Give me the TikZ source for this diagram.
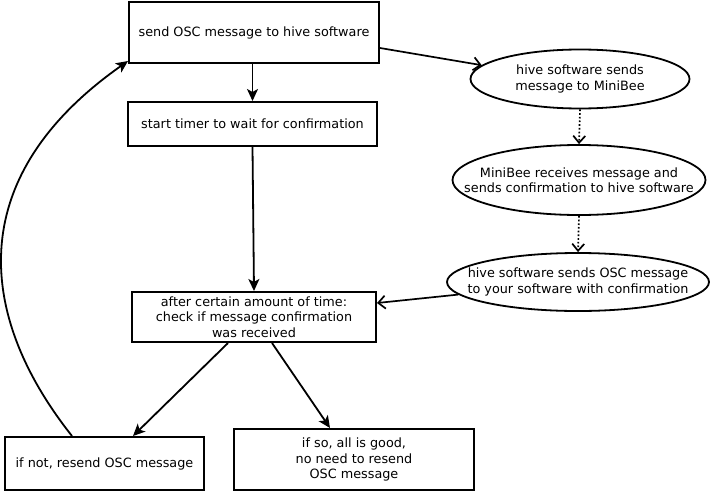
\documentclass[tikz,border=0pt]{standalone}
\usepackage{fontspec}
\setmainfont{DejaVu Sans}
\usetikzlibrary{shapes.geometric,arrows.meta}
\begin{document}
\begin{tikzpicture}[x=1pt,y=-1pt,
  box/.style={draw,line width=2pt,rectangle,align=center,inner sep=0pt,font=\fontsize{12.8}{15.5}\selectfont},
  ell/.style={draw,line width=1.8pt,ellipse,inner sep=0pt},
  lbl/.style={align=center,inner sep=0pt,font=\fontsize{12.8}{15.5}\selectfont},
  solidarrow/.style={line width=1.8pt,-{Stealth[length=12pt,width=11pt,inset=3pt]}},
  openarrow/.style={line width=1.7pt,-{Straight Barb[length=7pt,width=13pt]}},
  dotarrow/.style={line width=1.7pt,dotted,-{Straight Barb[length=7pt,width=12pt]}}]
\useasboundingbox (0,0) rectangle (711,495);
\fill[white] (0,0) rectangle (711,495);
\node[box,minimum width=250pt,minimum height=61pt] (b1) at (254,32.5) {send OSC message to hive software};
\node[box,minimum width=249pt,minimum height=44pt] (b2) at (252.5,124) {start timer to wait for confirmation};
\node[box,minimum width=244pt,minimum height=50pt] (b3) at (254,317) {after certain amount of time:\\check if message confirmation\\was received};
\node[box,minimum width=199pt,minimum height=53pt] (b4) at (104.5,463.5) {if not, resend OSC message};
\node[box,minimum width=240pt,minimum height=61pt] (b5) at (354,459.5) {if so, all is good,\\no need to resend\\OSC message};
\node[ell,minimum width=219pt,minimum height=59pt] (eA) at (580,79) {};
\node[lbl] at (eA.center) {hive software sends\\message to MiniBee};
\node[ell,minimum width=253pt,minimum height=70pt] (eB) at (579,180) {};
\node[lbl] at (eB.center) {MiniBee receives message and\\sends confirmation to hive software};
\node[ell,minimum width=262pt,minimum height=58pt] (eC) at (578,282) {};
\node[lbl] at (eC.center) {hive software sends OSC message\\to your software with confirmation};
\draw[openarrow] ([yshift=-15.5pt]b1.east) -- (eA.172);
\draw[dotarrow] (eA.south) -- (eB.north);
\draw[dotarrow] (eB.south) -- (eC.north);
\draw[openarrow] (eC.186) -- ([yshift=14pt]b3.east);
\draw[solidarrow] (b2.north |- b1.south) -- (b2.north);
\draw[solidarrow] (b2.south) -- (b3.north);
\draw[solidarrow] ([xshift=-26pt]b3.south) -- ([xshift=28.5pt]b4.north);
\draw[solidarrow] ([xshift=18pt]b3.south) -- ([xshift=-24pt]b5.north);
\draw[solidarrow] ([xshift=-32.5pt]b4.north) .. controls (-20,320) and (-41,180) .. ([yshift=3pt]b1.south west);
\end{tikzpicture}
\end{document}
